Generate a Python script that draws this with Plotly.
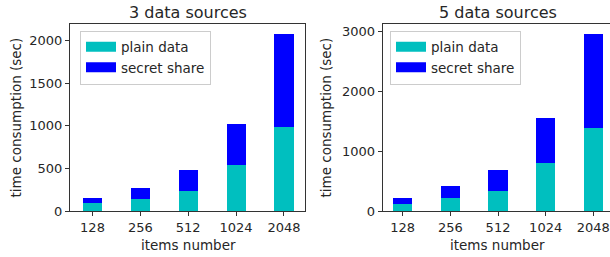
import plotly.graph_objects as go

categories = ["128", "256", "512", "1024", "2048"]
plain_3 = [90, 146, 240, 546, 988]
secret_3 = [67, 125, 242, 474, 1087]
plain_5 = [124, 224, 342, 804, 1381]
secret_5 = [100, 201, 345, 755, 1575]
titles = ["3 data sources", "5 data sources"]
x_title = "items number"
y_title = "time consumption (sec)"
series_names = ["plain data", "secret share"]
colors = ["#00BFBF", "#0000FF"]

W, H = 610, 257
FONT = "DejaVu Sans"
TXT = "#262626"

fig = go.Figure()

panels = [
    ("x", "y", plain_3, secret_3, "legend"),
    ("x2", "y2", plain_5, secret_5, "legend2"),
]
for xa, ya, plain, secret, leg in panels:
    for name, vals, col in zip(series_names, [plain, secret], colors):
        fig.add_trace(go.Bar(x=categories, y=vals, name=name, marker=dict(color=col, line=dict(width=0)),
                             width=0.4, xaxis=xa, yaxis=ya, showlegend=False))
    for name, col in zip(series_names, colors):
        fig.add_trace(go.Scatter(x=[None], y=[None], mode="lines", name=name,
                                 line=dict(color=col, width=10), xaxis=xa, yaxis=ya,
                                 legend=leg, showlegend=True))

ml, mr, mt, mb = 0, 0, 24, 46
pw = W - ml - mr
ph = H - mt - mb

def px(x):
    return (x - ml) / pw

def py(y):
    return 1 - (y - mt) / ph

axis_common = dict(showline=True, linecolor="#333333", linewidth=1, ticks="outside", ticklen=4,
                   tickcolor="#333333", showgrid=False, zeroline=False, automargin=False,
                   tickfont=dict(family=FONT, size=13, color=TXT))

title_font = dict(size=13.5, family=FONT, color=TXT)
legend_common = dict(xanchor="left", yanchor="top", bordercolor="#cccccc", borderwidth=1,
                     bgcolor="rgba(255,255,255,0.8)", font=dict(family=FONT, size=13.5, color=TXT),
                     itemwidth=30, tracegroupgap=0, traceorder="normal")

def ann(text, x, y, size, angle=0):
    return dict(text=text, x=px(x), y=py(y), xref="paper", yref="paper", showarrow=False,
                font=dict(family=FONT, size=size, color=TXT), xanchor="center", yanchor="middle",
                textangle=angle)

fig.update_layout(
    width=W, height=H, margin=dict(l=ml, r=mr, t=mt, b=mb),
    plot_bgcolor="white", paper_bgcolor="white", barmode="stack",
    font=dict(family=FONT, size=13, color=TXT),
    xaxis=dict(domain=[px(70), px(305)], range=[-0.47, 4.44], mirror=True, anchor="y", **axis_common),
    yaxis=dict(domain=[0, 1], range=[0, 2196], dtick=500, mirror=True, anchor="x", **axis_common),
    xaxis2=dict(domain=[px(382.7), 1.0], range=[-0.42, 4.35], mirror=True, anchor="y2", **axis_common),
    yaxis2=dict(domain=[0, 1], range=[0, 3124], dtick=1000, mirror=False, anchor="x2", **axis_common),
    legend=dict(x=px(80), y=py(30.5), **legend_common),
    legend2=dict(x=px(390), y=py(30.5), **legend_common),
    annotations=[
        ann(titles[0], 188, 13, 16),
        ann(titles[1], 498, 13, 16),
        ann(x_title, 188, 245, 13.5),
        ann(x_title, 498, 245, 13.5),
        ann(y_title, 15, 117.5, 13.5, -90),
        ann(y_title, 325, 117.5, 13.5, -90),
    ],
)

fig.write_html("out.html", config={"displayModeBar": False},
               post_script="document.body.style.margin='0';document.body.style.overflow='hidden';")
